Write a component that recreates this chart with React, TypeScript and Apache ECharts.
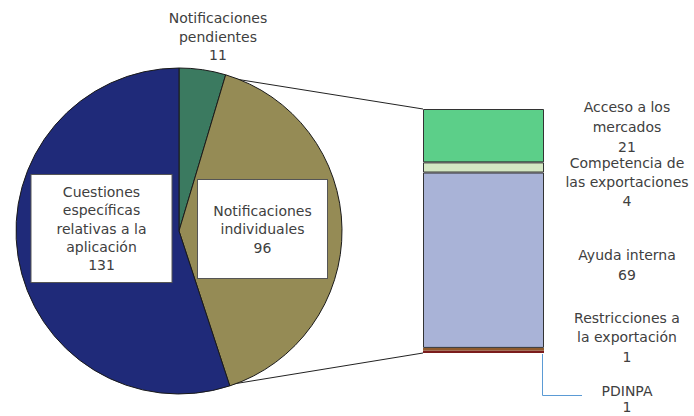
import React, { useEffect, useRef } from "react";
import * as echarts from "echarts";

const pieNames = [
  "Notificaciones\npendientes",
  "Notificaciones\nindividuales",
  "Cuestiones\nespecíficas\nrelativas a la\naplicación",
];
const pieValues = [11, 96, 131];
const pieColors = ["#3b7a60", "#958b55", "#1f2a79"];

const barNames = [
  "PDINPA",
  "Restricciones a\nla exportación",
  "Ayuda interna",
  "Competencia de\nlas exportaciones",
  "Acceso a los\nmercados",
];
const barValues = [1, 1, 69, 4, 21];
const barColors = ["#7b1c1c", "#8e5a2c", "#a9b3d7", "#d4e8c3", "#5ccf89"];

const FONT = "DejaVu Sans";
const TXT = "#404040";

export default function App() {
  const ref = useRef<HTMLDivElement>(null);
  useEffect(() => {
    const chart = echarts.init(ref.current!, null, { renderer: "svg" });
    const pieLabelPos = [
      { x: 218, y: 36.5, bg: false },
      { x: 262.5, y: 229, bg: true },
      { x: 101.5, y: 228.5, bg: true },
    ];
    const barLabelPos = [
      { x: 627, y: 399 },
      { x: 627, y: 337 },
      { x: 627, y: 265 },
      { x: 627, y: 182 },
      { x: 627, y: 127 },
    ];
    const barLH = [16.5, 19.5, 20, 19, 20];
    chart.setOption({
      animation: false,
      backgroundColor: "#ffffff",
      grid: { left: 423, top: 109, width: 121, height: 244 },
      xAxis: { type: "category", data: ["x"], show: false },
      yAxis: { type: "value", min: 0, max: 96, show: false },
      graphic: [
        { type: "line", shape: { x1: 226, y1: 77.5, x2: 423, y2: 109 }, style: { stroke: "#222", lineWidth: 1 } },
        { type: "line", shape: { x1: 227, y1: 385, x2: 423, y2: 353 }, style: { stroke: "#222", lineWidth: 1 } },
        { type: "polyline", shape: { points: [[542.5, 354], [542.5, 395.5], [582, 395.5]] }, style: { stroke: "#5b9bd5", lineWidth: 1, fill: null } },
      ],
      series: [
        {
          type: "pie",
          center: [179, 231],
          radius: 163,
          startAngle: 90,
          clockwise: true,
          silent: true,
          labelLine: { show: false },
          itemStyle: { borderColor: "#1a1a1a", borderWidth: 1 },
          data: pieNames.map((n, i) => ({
            name: n,
            value: pieValues[i],
            itemStyle: { color: pieColors[i] },
            label: {
              show: true,
              position: i === 0 ? "outside" : "inside",
              formatter: "{b}\n{c}",
              fontFamily: FONT,
              fontSize: 14,
              lineHeight: i === 2 ? 18.3 : 18.5,
              color: TXT,
              align: "center",
              ...(pieLabelPos[i].bg
                ? {
                    backgroundColor: "#ffffff",
                    borderColor: "#555",
                    borderWidth: 1,
                    width: i === 2 ? 128 : 117,
                    height: i === 2 ? 95 : 56,
                    padding: i === 2 ? [6, 6] : [21, 6],
                  }
                : {}),
            },
          })),
          labelLayout: (p: any) => ({
            x: pieLabelPos[p.dataIndex].x,
            y: pieLabelPos[p.dataIndex].y,
            align: "center",
            verticalAlign: "middle",
          }),
        },
        ...barNames.map((n, i) => ({
          type: "bar",
          name: n,
          stack: "s",
          barWidth: "100%",
          silent: true,
          data: [barValues[i]],
          itemStyle: {
            color: barColors[i],
            borderColor: "#333",
            borderWidth: barValues[i] < 2 ? 0 : 1,
          },
          label: {
            show: true,
            formatter: (p: any) => `${n}\n${p.value}`,
            fontFamily: FONT,
            fontSize: 14,
            lineHeight: barLH[i],
            color: TXT,
            align: "center",
          },
          labelLayout: () => ({
            x: barLabelPos[i].x,
            y: barLabelPos[i].y,
            align: "center",
            verticalAlign: "middle",
          }),
        })),
      ],
    });
    return () => chart.dispose();
  }, []);
  return (
    <div
      ref={ref}
      style={{ position: "fixed", left: 0, top: 0, width: 694, height: 416 }}
    />
  );
}
